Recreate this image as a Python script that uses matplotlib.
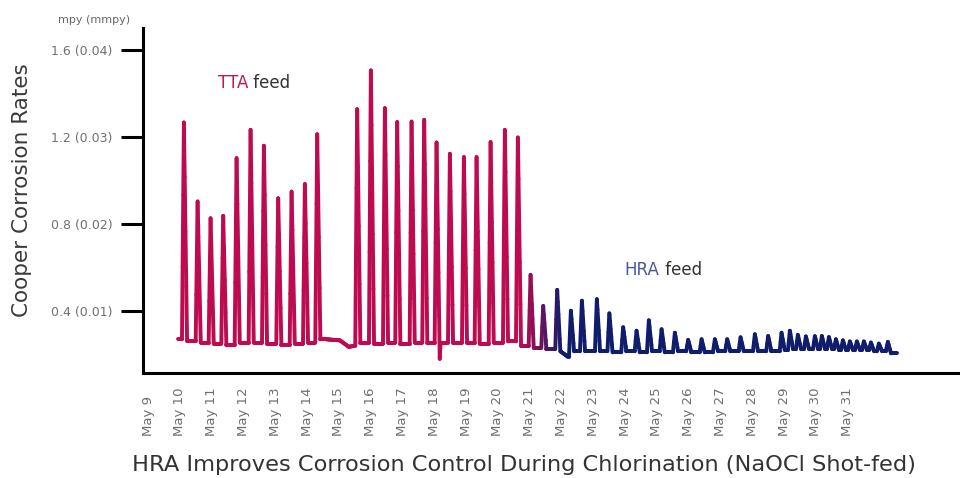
import numpy as np
import matplotlib
matplotlib.use("Agg")
import matplotlib.pyplot as plt
from matplotlib.collections import LineCollection
from matplotlib.colors import to_rgb

# ---------------- data (time in days of May, rate in mpy) ----------------
peak_days = [10.126, 10.557, 10.965, 11.362, 11.783, 12.223, 12.642, 13.091,
             13.513, 13.931, 14.318, 15.575, 16.006, 16.447, 16.833, 17.286,
             17.682, 18.072, 18.491, 18.931, 19.330, 19.771, 20.220, 20.629,
             21.028, 21.425, 21.865, 22.296, 22.642, 23.113, 23.506, 23.940,
             24.362, 24.748, 25.148, 25.566, 25.984, 26.406, 26.824, 27.211,
             27.632, 28.082, 28.500, 28.921, 29.182, 29.434, 29.686, 29.969,
             30.189, 30.409, 30.629, 30.849, 31.069, 31.289, 31.509, 31.730,
             31.981, 32.264]
peak_rates = [1.266, 0.903, 0.826, 0.837, 1.102, 1.232, 1.159, 0.918,
              0.948, 0.983, 1.212, 1.327, 1.505, 1.332, 1.268, 1.270,
              1.278, 1.174, 1.122, 1.107, 1.107, 1.176, 1.232, 1.197,
              0.566, 0.423, 0.497, 0.401, 0.447, 0.454, 0.389, 0.325,
              0.309, 0.357, 0.316, 0.300, 0.267, 0.270, 0.270, 0.270,
              0.279, 0.293, 0.285, 0.300, 0.309, 0.290, 0.283, 0.284,
              0.285, 0.280, 0.270, 0.265, 0.260, 0.260, 0.260, 0.255,
              0.250, 0.258]
trough_rates = [0.262, 0.255, 0.250, 0.245, 0.255, 0.255, 0.250, 0.245,
                0.250, 0.255, 0.270, 0.255, 0.250, 0.255, 0.250, 0.255,
                0.255, 0.180, 0.255, 0.255, 0.250, 0.255, 0.260, 0.240,
                0.230, 0.225, 0.215, 0.215, 0.215, 0.215, 0.210, 0.215,
                0.210, 0.215, 0.210, 0.215, 0.210, 0.210, 0.215, 0.215,
                0.215, 0.215, 0.215, 0.220, 0.225, 0.225, 0.225, 0.225,
                0.225, 0.225, 0.220, 0.220, 0.220, 0.220, 0.220, 0.215,
                0.215, 0.205]
# extra baseline points (start, May 15 gap, May 18 & May 22 dips, end)
extra_days = [9.937, 14.600, 15.031, 15.314, 15.470, 18.200, 22.200, 32.547]
extra_rates = [0.270, 0.270, 0.265, 0.235, 0.240, 0.255, 0.190, 0.205]

tick_days = list(range(9, 32))
tick_labels = [f"May {d}" for d in tick_days]
y_ticks = [0.4, 0.8, 1.2, 1.6]
y_tick_labels = ["0.4 (0.01)", "0.8 (0.02)", "1.2 (0.03)", "1.6 (0.04)"]

# ---------------- style ----------------
TTA_COL = "#BE0A50"
HRA_COL = "#101C6C"
RISE, FALL = 0.06, 0.10          # stroke shape of each spike (days)
GRAD_START, GRAD_END = 20.75, 22.05

# build the polyline from peaks/troughs
verts = []
extras = sorted(zip(extra_days, extra_rates))
ei = 0
for t, p, b in zip(peak_days, peak_rates, trough_rates):
    while ei < len(extras) and extras[ei][0] < t - RISE:
        verts.append(extras[ei]); ei += 1
    verts.append((t - RISE, verts[-1][1]))
    verts.append((t, p))
    verts.append((t + FALL, b))
while ei < len(extras):
    verts.append(extras[ei]); ei += 1
verts = np.array(verts)

# subdivide for smooth colour gradient
xs, ys = [], []
for (x0, y0), (x1, y1) in zip(verts[:-1], verts[1:]):
    n = max(1, int(abs(x1 - x0) / 0.02))
    xs.extend(np.linspace(x0, x1, n, endpoint=False))
    ys.extend(np.linspace(y0, y1, n, endpoint=False))
xs.append(verts[-1, 0]); ys.append(verts[-1, 1])
pts = np.column_stack([xs, ys])
segs = np.stack([pts[:-1], pts[1:]], axis=1)
mid = 0.5 * (pts[:-1, 0] + pts[1:, 0])
f = np.clip((mid - GRAD_START) / (GRAD_END - GRAD_START), 0, 1)[:, None]
c0, c1 = np.array(to_rgb(TTA_COL)), np.array(to_rgb(HRA_COL))
cols = (1 - f) * c0 + f * c1

fig = plt.figure(figsize=(9.6, 4.78), dpi=100)
ax = fig.add_axes([143 / 960, 105 / 478, 815 / 960, 345 / 478])
lc = LineCollection(segs, colors=cols, linewidths=2.8, capstyle="round", joinstyle="round")
ax.add_collection(lc)

ax.set_xlim(8.84, 34.47)
ax.set_ylim(0.115, 1.70)

for s in ["top", "right"]:
    ax.spines[s].set_visible(False)
for s in ["left", "bottom"]:
    ax.spines[s].set_linewidth(2.2)
    ax.spines[s].set_color("black")

ax.set_yticks(y_ticks)
ax.set_yticklabels(y_tick_labels, fontsize=9, color="#707070")
ax.tick_params(axis="y", length=16, width=2.2, pad=6, color="black")

ax.set_xticks(tick_days)
ax.set_xticklabels(tick_labels, rotation=90, fontsize=9.5, color="#6e6e6e", va="bottom")
ax.tick_params(axis="x", length=0, pad=45)

ax.set_ylabel("Cooper Corrosion Rates", fontsize=15.5, color="#3a3a3a")
ax.yaxis.set_label_coords(-0.136, 0.53)

fig.text(94 / 960, 1 - 20 / 478, "mpy (mmpy)", fontsize=8, color="#666666",
         ha="center", va="center")
fig.text(524 / 960, 13 / 478,
         "HRA Improves Corrosion Control During Chlorination (NaOCl Shot-fed)",
         fontsize=16.2, color="#333333", ha="center", va="center")

t1 = ax.text(11.19, 1.448, "TTA", fontsize=12, color="#C2185B", va="center", ha="left")
ax.annotate(" feed", xy=(1, 0.5), xycoords=t1, fontsize=12, color="#333333",
            va="center", ha="left")
t2 = ax.text(23.99, 0.589, "HRA", fontsize=12, color="#4B5898", va="center", ha="left")
ax.annotate(" feed", xy=(1, 0.5), xycoords=t2, fontsize=12, color="#333333",
            va="center", ha="left")

fig.savefig("out.png", dpi=100)
